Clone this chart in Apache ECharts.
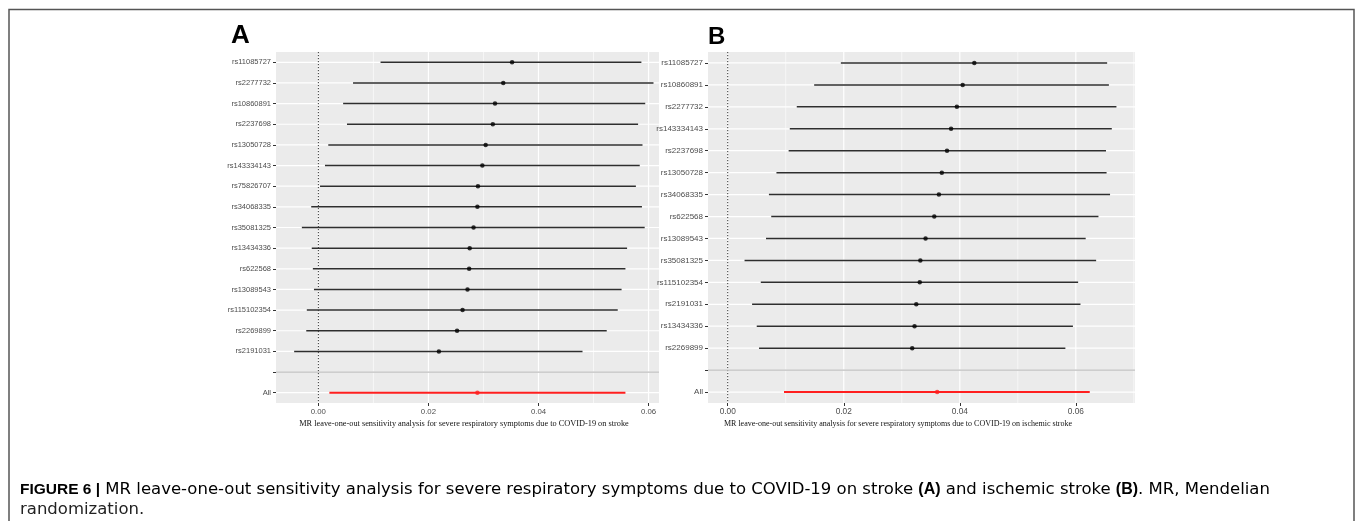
<!DOCTYPE html>
<html><head><meta charset="utf-8">
<script src="https://cdn.jsdelivr.net/npm/echarts@6/dist/echarts.min.js"></script>
<style>html,body{margin:0;padding:0;background:#fff}#c{width:1357px;height:521px}</style>
</head><body><div id="c"></div>
<script>
// ---------- Panel A data (top to bottom) ----------
const snpA = ['rs11085727','rs2277732','rs10860891','rs2237698','rs13050728','rs143334143','rs75826707','rs34068335','rs35081325','rs13434336','rs622568','rs13089543','rs115102354','rs2269899','rs2191031','','All'];
const betaA = [0.0352,0.0336,0.0321,0.0317,0.0304,0.0298,0.0290,0.0289,0.0282,0.0275,0.0274,0.0271,0.0262,0.0252,0.0219,null,0.0289];
const loA   = [0.0113,0.0063,0.0045,0.0052,0.0018,0.0012,0.0003,-0.0013,-0.0030,-0.0012,-0.0010,-0.0008,-0.0021,-0.0022,-0.0044,null,0.0020];
const hiA   = [0.0587,0.0609,0.0594,0.0581,0.0589,0.0584,0.0577,0.0588,0.0593,0.0561,0.0558,0.0551,0.0544,0.0524,0.0480,null,0.0558];

// ---------- Panel B data (top to bottom) ----------
const snpB = ['rs11085727','rs10860891','rs2277732','rs143334143','rs2237698','rs13050728','rs34068335','rs622568','rs13089543','rs35081325','rs115102354','rs2191031','rs13434336','rs2269899','','All'];
const betaB = [0.0425,0.0405,0.0395,0.0385,0.0378,0.0369,0.0364,0.0356,0.0341,0.0332,0.0331,0.0325,0.0322,0.0318,null,0.0361];
const loB   = [0.0195,0.0149,0.0119,0.0107,0.0105,0.0084,0.0071,0.0075,0.0066,0.0029,0.0057,0.0042,0.0050,0.0054,null,0.0097];
const hiB   = [0.0654,0.0657,0.0670,0.0662,0.0652,0.0653,0.0659,0.0639,0.0617,0.0635,0.0604,0.0608,0.0595,0.0582,null,0.0624];

// ---------- axis ticks & texts ----------
const xMajor = [0, 0.02, 0.04, 0.06];
const xMinorA = [0.01, 0.03, 0.05];
const xMinorB = [0.01, 0.03, 0.05, 0.07];
const titleA = 'MR leave-one-out sensitivity analysis for severe respiratory symptoms due to COVID-19 on stroke';
const titleB = 'MR leave-one-out sensitivity analysis for severe respiratory symptoms due to COVID-19 on ischemic stroke';
const captionLine1 = ['FIGURE 6 |', ' MR leave-one-out sensitivity analysis for severe respiratory symptoms due to COVID-19 on stroke ', '(A)', ' and ischemic stroke ', '(B)', '. MR, Mendelian'];
const captionLine2 = 'randomization.';

const sans = '"Liberation Sans", Arial, sans-serif';
const capSans = '"DejaVu Sans", "Liberation Sans", sans-serif';
const serif = '"Liberation Serif", "Times New Roman", serif';

function hGrid(params, api) {
  const cs = params.coordSys;
  const y = api.coord([0, api.value(1)])[1];
  return {type:'line', silent:true, shape:{x1:cs.x, y1:y, x2:cs.x+cs.width, y2:y}, style:{stroke:'#ffffff', lineWidth:1.2}};
}
function vGrid(params, api) {
  const cs = params.coordSys;
  const x = api.coord([api.value(0), 0])[0];
  const major = api.value(2) === 1;
  return {type:'line', silent:true, shape:{x1:x, y1:cs.y, x2:x, y2:cs.y+cs.height}, style:{stroke:'#ffffff', lineWidth: major ? 1.2 : 0.6}};
}
function zeroLine(params, api) {
  const cs = params.coordSys;
  const x = api.coord([api.value(0), 0])[0];
  return {type:'line', silent:true, shape:{x1:x, y1:cs.y, x2:x, y2:cs.y+cs.height}, style:{stroke:'#333', lineWidth:1, lineDash:[1.2,1.8]}};
}
function blankLine(params, api) {
  const cs = params.coordSys;
  const y = api.coord([0, api.value(1)])[1];
  return {type:'line', silent:true, shape:{x1:cs.x, y1:y, x2:cs.x+cs.width, y2:y}, style:{stroke:'#bebebe', lineWidth:1.2}};
}
function errBar(params, api) {
  const p1 = api.coord([api.value(0), api.value(2)]);
  const p2 = api.coord([api.value(1), api.value(2)]);
  const isAll = api.value(3) === 1;
  return {type:'line', shape:{x1:p1[0], y1:p1[1], x2:p2[0], y2:p2[1]}, style:{stroke: isAll ? '#ff1f1f' : '#2e2e2e', lineWidth: isAll ? 2 : 1.5}};
}

function panelSeries(idx, snp, beta, lo, hi, minor) {
  const blankIdx = snp.indexOf('');
  const bars = [], pts = [];
  snp.forEach((s, i) => {
    if (beta[i] === null) return;
    const isAll = s === 'All' ? 1 : 0;
    bars.push([lo[i], hi[i], i, isAll]);
    pts.push({value:[beta[i], i], itemStyle:{color: isAll ? '#ff1f1f' : '#000'}});
  });
  const vdata = xMajor.map(v => [v, 0, 1]).concat(minor.map(v => [v, 0, 0]));
  return [
    {type:'custom', xAxisIndex:idx, yAxisIndex:idx, z:1, silent:true, renderItem:hGrid, encode:{x:0, y:1}, data: snp.map((s,i)=>[0,i])},
    {type:'custom', xAxisIndex:idx, yAxisIndex:idx, z:1, silent:true, renderItem:vGrid, encode:{x:0, y:1}, data: vdata},
    {type:'custom', xAxisIndex:idx, yAxisIndex:idx, z:2, silent:true, renderItem:zeroLine, encode:{x:0, y:1}, data: [[0, 0]]},
    {type:'custom', xAxisIndex:idx, yAxisIndex:idx, z:3, renderItem:errBar, encode:{x:[0,1], y:2}, data: bars},
    {type:'scatter', xAxisIndex:idx, yAxisIndex:idx, z:4, symbolSize:4.5, data: pts},
    {type:'custom', xAxisIndex:idx, yAxisIndex:idx, z:5, silent:true, renderItem:blankLine, encode:{x:0, y:1}, data: [[0, blankIdx]]}
  ];
}

function xAxisCfg(idx, min, max, fs) {
  return {gridIndex:idx, type:'value', min:min, max:max, splitNumber:4, z:10,
    axisLine:{show:false, onZero:false},
    axisTick:{show:true, inside:false, length:3, lineStyle:{color:'#333', width:1}, customValues: xMajor},
    axisLabel:{customValues: xMajor, formatter: v => v.toFixed(2), color:'#4d4d4d', fontSize:fs, margin:5, fontFamily:sans},
    splitLine:{show:false}, minorSplitLine:{show:false}};
}
function yAxisCfg(idx, data, fs) {
  return {gridIndex:idx, type:'category', data:data, inverse:true, z:10,
    axisLine:{show:false, onZero:false},
    axisTick:{show:true, inside:false, alignWithLabel:true, interval:0, length:3, lineStyle:{color:'#333', width:1}},
    axisLabel:{interval:0, color:'#4d4d4d', fontSize:fs, margin:5, fontFamily:sans},
    splitLine:{show:false}};
}

const chart = echarts.init(document.getElementById('c'), null, {renderer:'canvas'});
const richCap = {
  b:{fontWeight:'bold', fontSize:15.5, fontFamily:sans, color:'#222'},
  bb:{fontWeight:'bold', fontSize:16, fontFamily:sans, color:'#222'},
  n:{fontWeight:'normal', fontSize:16.5, fontFamily:capSans, color:'#222'}
};
chart.setOption({
  animation:false,
  backgroundColor:'#ffffff',
  grid:[
    {left:276, top:52, width:383, height:351, show:true, backgroundColor:'#ebebeb', borderWidth:0},
    {left:708, top:52, width:427, height:351, show:true, backgroundColor:'#ebebeb', borderWidth:0}
  ],
  xAxis:[xAxisCfg(0, -0.0077, 0.0619, 7.8), xAxisCfg(1, -0.0034, 0.0702, 8.3)],
  yAxis:[yAxisCfg(0, snpA, 7.5), yAxisCfg(1, snpB, 8)],
  series: panelSeries(0, snpA, betaA, loA, hiA, xMinorA).concat(panelSeries(1, snpB, betaB, loB, hiB, xMinorB)),
  graphic:[
    {type:'polyline', silent:true, shape:{points:[[9,521],[9,9.5],[1354,9.5],[1354,521]]}, style:{stroke:'#555', lineWidth:1.5, fill:null}},
    {type:'text', silent:true, style:{x:231, y:35.5, text:'A', font:'bold 26px ' + sans, fill:'#000', textVerticalAlign:'middle'}},
    {type:'text', silent:true, style:{x:708, y:37, text:'B', font:'bold 24px ' + sans, fill:'#000', textVerticalAlign:'middle'}},
    {type:'text', silent:true, style:{x:464, y:424, text:titleA, font:'8.3px ' + serif, fill:'#111', textAlign:'center', textVerticalAlign:'middle'}},
    {type:'text', silent:true, style:{x:898, y:424, text:titleB, font:'8px ' + serif, fill:'#111', textAlign:'center', textVerticalAlign:'middle'}},
    {type:'text', silent:true, style:{x:20, y:490, textVerticalAlign:'middle',
      text: captionLine1.map((t,i) => i===0 ? '{b|'+t+'}' : (i===2||i===4) ? '{bb|'+t+'}' : '{n|'+t+'}').join(''),
      rich: richCap}},
    {type:'text', silent:true, style:{x:20, y:510, text:captionLine2, font:'16.5px ' + capSans, fill:'#222', textVerticalAlign:'middle'}}
  ]
});
</script></body></html>
